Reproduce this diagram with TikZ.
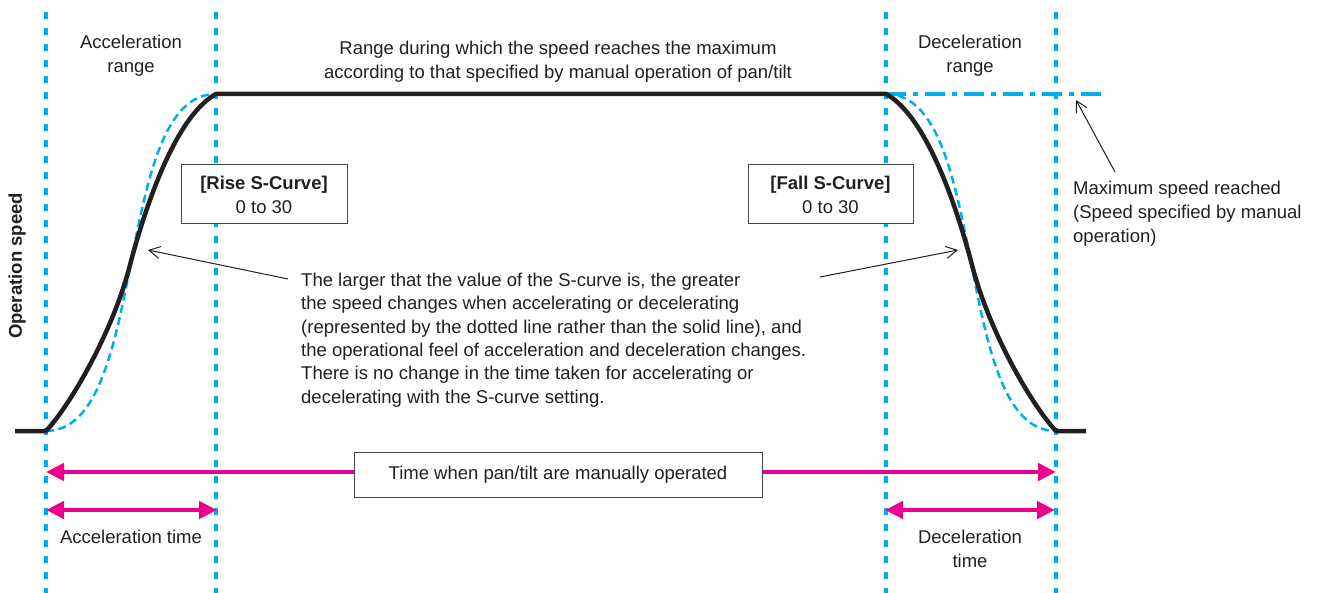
\documentclass[tikz,border=0pt]{standalone}
\usepackage{fontspec}
\setmainfont{Liberation Sans}
\usetikzlibrary{arrows.meta}
\definecolor{cy}{RGB}{0,174,239}
\definecolor{mg}{RGB}{236,0,140}
\definecolor{ink}{RGB}{35,31,32}
\definecolor{boxline}{RGB}{70,70,70}
\begin{document}
\begin{tikzpicture}[x=1pt,y=-1pt,
  every node/.style={font=\fontsize{18.5}{23.8}\selectfont, text=ink, inner sep=0pt},
  vdot/.style={cy, line width=4.5pt, dash pattern=on 7pt off 9pt},
  dashcurve/.style={cy, line width=2.5pt, dash pattern=on 8pt off 4.5pt},
  solidcurve/.style={ink, line width=4.5pt, line join=round},
  dashdot/.style={cy, line width=4.5pt, dash pattern=on 20pt off 7pt on 5pt off 7pt},
  timearrow/.style={mg, line width=4.5pt, {Triangle[length=18pt,width=17pt]}-{Triangle[length=18pt,width=17pt]}},
  timearrowR/.style={mg, line width=4.5pt, -{Triangle[length=18pt,width=17pt]}},
  timearrowL/.style={mg, line width=4.5pt, {Triangle[length=18pt,width=17pt]}-},
  pointer/.style={ink, line width=1pt, -{Straight Barb[length=11pt,width=12pt]}},
  labelbox/.style={draw=boxline, line width=1pt, fill=white, align=center},
  lbl/.style={align=center}
]
\useasboundingbox (0,0) rectangle (1320,593);

% key coordinates
\coordinate (xA) at (46,0);
\coordinate (xB) at (216,0);
\coordinate (xC) at (886,0);
\coordinate (xD) at (1056,0);

% vertical dotted lines
\foreach \x in {46,216,886,1056}{
  \draw[vdot] (\x,12) -- (\x,593);
}

% dashed S-curves
\draw[dashcurve] (46,431) .. controls (150,431) and (112,94) .. (216,94);
\draw[dashcurve] (886,94) .. controls (990,94) and (952,431) .. (1056,431);

% maximum speed dash-dot line
\coordinate (mxL) at (886,94);
\coordinate (mxR) at (1106,94);
\draw[dashdot] (mxL) -- (mxR);

% solid speed profile
\draw[solidcurve] (15,431) -- (46,431)
  .. controls (68,408) and (112,335) .. (130,265)
  .. controls (141,223) and (172,118) .. (216,94)
  -- (886,94)
  .. controls (930,118) and (961,223) .. (972,265)
  .. controls (990,335) and (1034,408) .. (1056,431)
  -- (1086,431);

% time arrows
\node[labelbox, minimum width=408pt, minimum height=45pt] (ttime) at (558,474.5) {Time when pan/tilt are manually operated};
\coordinate (tL) at (46,472);
\coordinate (tR) at (1056,472);
\draw[timearrowL] (tL) -- (ttime.west |- tL);
\draw[timearrowR] (ttime.east |- tR) -- (tR);

\coordinate (aL) at (46,510);
\coordinate (aR) at (217,510);
\draw[timearrow] (aL) -- (aR);
\coordinate (dL) at (885,510);
\coordinate (dR) at (1055,510);
\draw[timearrow] (dL) -- (dR);

% labels
\node[lbl] (accrange) at (131,56) {Acceleration\\range};
\node[lbl] (decrange) at (970,56) {Deceleration\\range};
\node[lbl] (maxrange) at (558,62) {Range during which the speed reaches the maximum\\according to that specified by manual operation of pan/tilt};
\node[lbl] (acctime) at (131,537) {Acceleration time};
\node[lbl] (dectime) at (970,549) {Deceleration\\time};
\node[rotate=90, font=\fontsize{18.5}{22}\selectfont\bfseries] (opspeed) at (17,266) {Operation speed};

\node[labelbox, minimum width=166pt, minimum height=59pt] (rise) at (264,194.5) {\textbf{[Rise S-Curve]}\\0 to 30};
\node[labelbox, minimum width=165pt, minimum height=59pt] (fall) at (830.5,194.5) {\textbf{[Fall S-Curve]}\\0 to 30};

\node[anchor=west, align=left] (maxtxt) at (1073,214) {Maximum speed reached\\(Speed specified by manual\\operation)};

\node[anchor=west, align=left, font=\fontsize{18.5}{23.3}\selectfont] (expl) at (301,340) {The larger that the value of the S-curve is, the greater\\the speed changes when accelerating or decelerating\\(represented by the dotted line rather than the solid line), and\\the operational feel of acceleration and deceleration changes.\\There is no change in the time taken for accelerating or\\decelerating with the S-curve setting.};

% pointer arrows
\coordinate (pl1) at (288,279);
\coordinate (pl2) at (148,250);
\coordinate (pr1) at (820,277);
\coordinate (pr2) at (958,250);
\coordinate (pm1) at (1115,172);
\coordinate (pm2) at (1076,100);
\draw[pointer] (pl1) -- (pl2);
\draw[pointer] (pr1) -- (pr2);
\draw[pointer] (pm1) -- (pm2);
\end{tikzpicture}
\end{document}
